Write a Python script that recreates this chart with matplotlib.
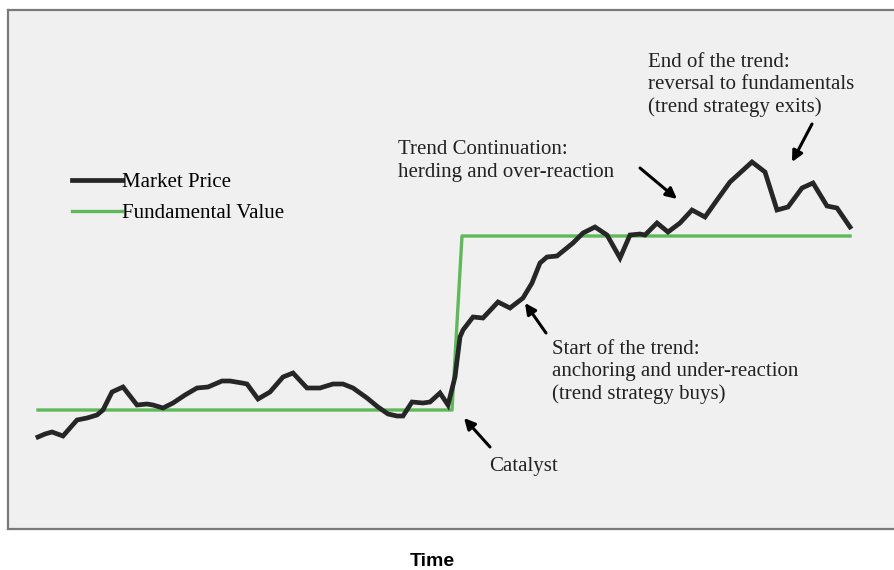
import matplotlib.pyplot as plt

# Market price path and fundamental value over time (arbitrary units)
time = [0, 7, 14, 25, 39, 49, 59, 65, 74, 85, 99, 109, 115, 125, 135, 147,
        159, 170, 184, 192, 204, 209, 220, 232, 245, 255, 269, 282, 295, 305,
        315, 329, 340, 350, 359, 365, 374, 385, 392, 402, 410, 417, 422, 425,
        435, 445, 460, 472, 485, 494, 502, 509, 519, 535, 545, 557, 569, 582,
        592, 602, 607, 619, 630, 642, 654, 667, 679, 692, 714, 727, 739, 750,
        764, 775, 789, 799, 812]
price = [92, 95, 97, 93, 109, 111, 114, 119, 137, 142, 124, 125, 124, 121,
         126, 134, 141, 142, 148, 148, 146, 145, 130, 137, 152, 156, 141, 141,
         145, 145, 141, 131, 122, 115, 113, 113, 127, 126, 127, 136, 124, 152,
         192, 199, 212, 211, 227, 221, 231, 246, 266, 272, 273, 286, 296, 302,
         294, 271, 294, 295, 294, 306, 297, 306, 319, 312, 329, 347, 367, 357,
         319, 322, 341, 346, 323, 321, 302]

fv_time = [0, 414, 424, 812]
fv_value = [119, 119, 293, 293]

plt.rcParams['font.family'] = ['Liberation Serif', 'DejaVu Serif']

fig = plt.figure(figsize=(8.95, 5.70), dpi=100)
W, H = 895, 570
ax = fig.add_axes([8 / W, (570 - 529) / H, 897 / W, 519 / H])
ax.set_facecolor('#f0f0f0')
ax.set_xlim(-30, 867)
ax.set_ylim(0, 519)
ax.set_xticks([])
ax.set_yticks([])
for side in ['left', 'top', 'bottom']:
    ax.spines[side].set_color('#7a7a7a')
    ax.spines[side].set_linewidth(1.6)
ax.spines['right'].set_visible(False)

ax.plot(time, price, color='#262626', lw=3.4, solid_joinstyle='miter',
        label='Market Price', zorder=3)
ax.plot(fv_time, fv_value, color='#5fb95a', lw=2.4, label='Fundamental Value',
        zorder=2)

ax.legend(loc='upper left', bbox_to_anchor=(0.0714, 0.687), frameon=False,
          fontsize=15, handlelength=2.4, handletextpad=0.0, borderpad=0,
          borderaxespad=0, labelspacing=0.55)

txt = dict(fontsize=15, color='#222222', ha='left', va='center',
           linespacing=1.24)
ax.text(360, 368, "Trend Continuation:\nherding and over-reaction", **txt)
ax.text(610, 444, "End of the trend:\nreversal to fundamentals\n(trend strategy exits)", **txt)
ax.text(514, 157, "Start of the trend:\nanchoring and under-reaction\n(trend strategy buys)", **txt)
ax.text(451, 63, "Catalyst", **txt)

arrow = dict(arrowstyle='-|>', color='black', lw=2.2, mutation_scale=16,
             shrinkA=0, shrinkB=0)
ax.annotate("", xy=(639, 330), xytext=(602, 361), arrowprops=arrow)
ax.annotate("", xy=(754, 367), xytext=(774, 405), arrowprops=arrow)
ax.annotate("", xy=(487, 226), xytext=(508, 196), arrowprops=arrow)
ax.annotate("", xy=(426, 111), xytext=(452, 82), arrowprops=arrow)

fig.text(432 / W, 1 - 561 / H, "Time", family='Liberation Sans',
         fontweight='bold', fontsize=14, ha='center', va='center')

plt.savefig("out.png", dpi=100)
